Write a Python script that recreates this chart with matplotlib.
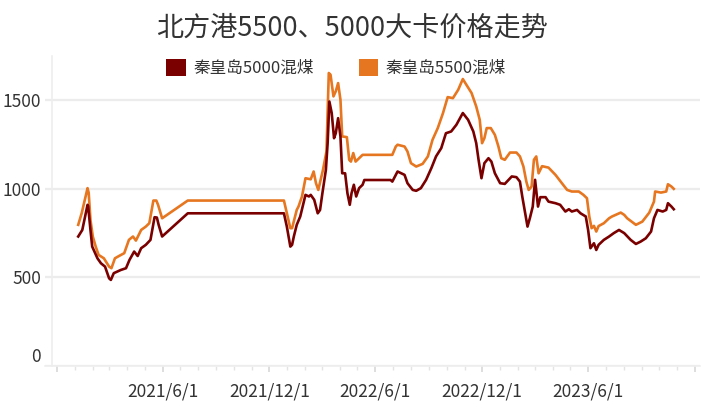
import matplotlib
matplotlib.use("Agg")
import matplotlib.pyplot as plt
import matplotlib.dates as mdates
from matplotlib.patches import Patch
import pandas as pd

plt.rcParams['font.family'] = ['Noto Sans CJK SC', 'DejaVu Sans']

title = "北方港5500、5000大卡价格走势"
names = ["秦皇岛5000混煤", "秦皇岛5500混煤"]
colors = ["#7a0000", "#e6761f"]

dates_5000 = [
    "2021-01-07", "2021-01-14", "2021-01-23", "2021-01-24", "2021-01-28", "2021-01-31",
    "2021-02-05", "2021-02-09", "2021-02-15", "2021-02-22", "2021-03-01", "2021-03-04",
    "2021-03-09", "2021-03-21", "2021-03-30", "2021-04-05", "2021-04-13", "2021-04-19",
    "2021-04-25", "2021-05-03", "2021-05-11", "2021-05-18", "2021-05-22", "2021-05-25",
    "2021-05-31", "2021-07-14", "2021-12-26", "2021-12-31", "2022-01-06", "2022-01-09",
    "2022-01-12", "2022-01-17", "2022-01-23", "2022-02-01", "2022-02-07", "2022-02-10",
    "2022-02-16", "2022-02-22", "2022-02-26", "2022-03-02", "2022-03-08", "2022-03-11",
    "2022-03-14", "2022-03-18", "2022-03-22", "2022-03-25", "2022-03-29", "2022-04-02",
    "2022-04-05", "2022-04-10", "2022-04-14", "2022-04-18", "2022-04-21", "2022-04-25",
    "2022-04-29", "2022-05-04", "2022-05-10", "2022-05-13", "2022-06-27", "2022-06-30",
    "2022-07-09", "2022-07-21", "2022-07-26", "2022-08-04", "2022-08-10", "2022-08-18",
    "2022-08-27", "2022-09-05", "2022-09-13", "2022-09-22", "2022-09-30", "2022-10-09",
    "2022-10-18", "2022-10-29", "2022-11-07", "2022-11-16", "2022-11-21", "2022-11-25",
    "2022-11-30", "2022-12-05", "2022-12-12", "2022-12-17", "2022-12-23", "2023-01-01",
    "2023-01-09", "2023-01-21", "2023-01-29", "2023-02-04", "2023-02-08", "2023-02-12",
    "2023-02-17", "2023-02-21", "2023-02-26", "2023-03-02", "2023-03-07", "2023-03-11",
    "2023-03-20", "2023-03-25", "2023-04-06", "2023-04-14", "2023-04-23", "2023-04-29",
    "2023-05-04", "2023-05-13", "2023-05-19", "2023-05-28", "2023-06-01", "2023-06-05",
    "2023-06-11", "2023-06-15", "2023-06-19", "2023-06-28", "2023-07-07", "2023-07-15",
    "2023-07-24", "2023-08-02", "2023-08-13", "2023-08-22", "2023-08-30", "2023-09-08",
    "2023-09-17", "2023-09-22", "2023-09-28", "2023-10-07", "2023-10-13", "2023-10-16",
    "2023-10-22", "2023-10-26",
]
price_5000 = [
    731, 768, 910, 904, 768, 674,
    637, 608, 580, 561, 495, 486,
    524, 542, 552, 599, 646, 621,
    665, 684, 712, 840, 838, 797,
    731, 862, 862, 787, 674, 684,
    731, 797, 844, 966, 957, 966,
    938, 862, 881, 975, 1107, 1258,
    1493, 1428, 1286, 1314, 1399, 1296,
    1088, 1088, 975, 910, 975, 1023,
    957, 1004, 1023, 1050, 1050, 1041,
    1098, 1079, 1032, 994, 989, 1004,
    1051, 1117, 1183, 1230, 1314, 1324,
    1362, 1428, 1390, 1324, 1258, 1164,
    1060, 1145, 1173, 1154, 1088, 1032,
    1028, 1070, 1066, 1041, 957, 881,
    787, 834, 900, 1051, 900, 953,
    953, 928, 919, 910, 872, 885,
    872, 881, 862, 844, 768, 665,
    693, 655, 684, 712, 731, 750,
    768, 750, 712, 689, 702, 721,
    759, 834, 881, 872, 881, 919,
    900, 885,
]

dates_5500 = [
    "2021-01-07", "2021-01-13", "2021-01-23", "2021-01-25", "2021-01-28", "2021-02-01",
    "2021-02-06", "2021-02-11", "2021-02-20", "2021-03-01", "2021-03-05", "2021-03-11",
    "2021-03-18", "2021-03-27", "2021-04-04", "2021-04-11", "2021-04-16", "2021-04-25",
    "2021-05-03", "2021-05-09", "2021-05-16", "2021-05-21", "2021-05-24", "2021-05-31",
    "2021-07-14", "2021-12-26", "2022-01-06", "2022-01-09", "2022-01-17", "2022-01-20",
    "2022-01-26", "2022-02-01", "2022-02-10", "2022-02-15", "2022-02-19", "2022-02-23",
    "2022-02-27", "2022-03-03", "2022-03-09", "2022-03-13", "2022-03-16", "2022-03-21",
    "2022-03-25", "2022-03-29", "2022-04-02", "2022-04-05", "2022-04-13", "2022-04-17",
    "2022-04-20", "2022-04-24", "2022-04-28", "2022-05-04", "2022-05-10", "2022-06-30",
    "2022-07-06", "2022-07-09", "2022-07-21", "2022-07-26", "2022-08-01", "2022-08-10",
    "2022-08-21", "2022-08-30", "2022-09-07", "2022-09-16", "2022-09-25", "2022-10-03",
    "2022-10-12", "2022-10-21", "2022-10-29", "2022-11-04", "2022-11-13", "2022-11-21",
    "2022-11-27", "2022-12-01", "2022-12-05", "2022-12-09", "2022-12-16", "2022-12-23",
    "2022-12-29", "2023-01-03", "2023-01-09", "2023-01-18", "2023-01-29", "2023-02-04",
    "2023-02-10", "2023-02-15", "2023-02-19", "2023-02-24", "2023-02-28", "2023-03-04",
    "2023-03-08", "2023-03-14", "2023-03-25", "2023-04-06", "2023-04-17", "2023-04-26",
    "2023-05-04", "2023-05-16", "2023-05-24", "2023-05-30", "2023-06-03", "2023-06-07",
    "2023-06-11", "2023-06-15", "2023-06-19", "2023-06-28", "2023-07-07", "2023-07-12",
    "2023-07-27", "2023-08-02", "2023-08-07", "2023-08-22", "2023-09-02", "2023-09-14",
    "2023-09-22", "2023-09-24", "2023-10-04", "2023-10-13", "2023-10-16", "2023-10-22",
    "2023-10-26",
]
price_5500 = [
    797, 863, 1004, 977, 825, 731,
    674, 627, 608, 561, 552, 608,
    621, 637, 712, 731, 708, 768,
    787, 806, 934, 934, 910, 834,
    934, 934, 778, 778, 881, 900,
    957, 1060, 1054, 1098, 1032, 994,
    1051, 1107, 1211, 1654, 1644, 1522,
    1551, 1597, 1503, 1296, 1292, 1164,
    1154, 1202, 1154, 1173, 1192, 1192,
    1239, 1249, 1239, 1211, 1145, 1126,
    1141, 1183, 1277, 1343, 1428, 1518,
    1512, 1559, 1620, 1588, 1541, 1465,
    1390, 1258, 1286, 1343, 1343, 1305,
    1240, 1173, 1164, 1205, 1205, 1183,
    1126, 1041, 994, 1013, 1164, 1183,
    1088, 1128, 1120, 1079, 1032, 994,
    985, 985, 966, 947, 844, 778,
    791, 759, 790, 806, 834, 844,
    866, 853, 834, 797, 815, 866,
    928, 985, 979, 985, 1026, 1013,
    1000,
]

y_ticks = [0, 500, 1000, 1500]
x_ticks = ["2020-12-01", "2021-06-01", "2021-12-01", "2022-06-01",
           "2022-12-01", "2023-06-01", "2023-12-01"]

text_color = "#333333"
grid_color = "#ececec"

fig = plt.figure(figsize=(7.05, 4.08), dpi=100)
ax = fig.add_axes([45 / 705, 42 / 408, 655 / 705, 310 / 408])

ax.plot(pd.to_datetime(dates_5000), price_5000, color=colors[0], lw=1.9, zorder=3)
ax.plot(pd.to_datetime(dates_5500), price_5500, color=colors[1], lw=1.9, zorder=2)

ax.set_ylim(0, 1750)
ax.set_xlim(pd.Timestamp("2020-11-11"), pd.Timestamp("2023-12-10"))

ax.set_yticks(y_ticks)
ax.set_yticklabels([str(v) for v in y_ticks])
ax.grid(axis='y', color=grid_color, lw=1.6, zorder=0)
ax.set_axisbelow(True)
ax.tick_params(axis='y', length=0, pad=8, labelsize=12.5, labelcolor=text_color)

xt = pd.to_datetime(x_ticks)
labels = [f"{d.year}/{d.month}/{d.day}" for d in xt]
labels[0] = ""
labels[-1] = ""
ax.set_xticks(xt)
ax.set_xticklabels(labels)
ax.xaxis.set_minor_locator(mdates.MonthLocator())
ax.tick_params(axis='x', which='major', length=4, width=1.2, color="#d8d8d8",
               labelsize=12.5, labelcolor=text_color, pad=8)
ax.tick_params(axis='x', which='minor', length=3, width=1, color="#e4e4e4")

for s in ['top', 'right']:
    ax.spines[s].set_visible(False)
ax.spines['bottom'].set_color("#eeeeee")
ax.spines['bottom'].set_linewidth(1.2)
ax.spines['left'].set_color("#eeeeee")
ax.spines['left'].set_linewidth(1.2)
ax.spines['left'].set_position(('axes', 7 / 655))

# the 0 label sits a little above its grid line
ax.yaxis.get_major_ticks()[0].label1.set_verticalalignment('bottom')

fig.text(352 / 705, 1 - 28 / 408, title, ha='center', va='center',
         fontsize=19.5, color=text_color)

handles = [Patch(facecolor=c, edgecolor='none') for c in colors]
fig.legend(handles, names, loc='center', bbox_to_anchor=(336 / 705, 1 - 68 / 408),
           ncol=2, frameon=False, fontsize=12, labelcolor=text_color,
           handlelength=1.15, handleheight=1.15, handletextpad=0.45,
           columnspacing=2.7)

fig.savefig("out.png", dpi=100)
